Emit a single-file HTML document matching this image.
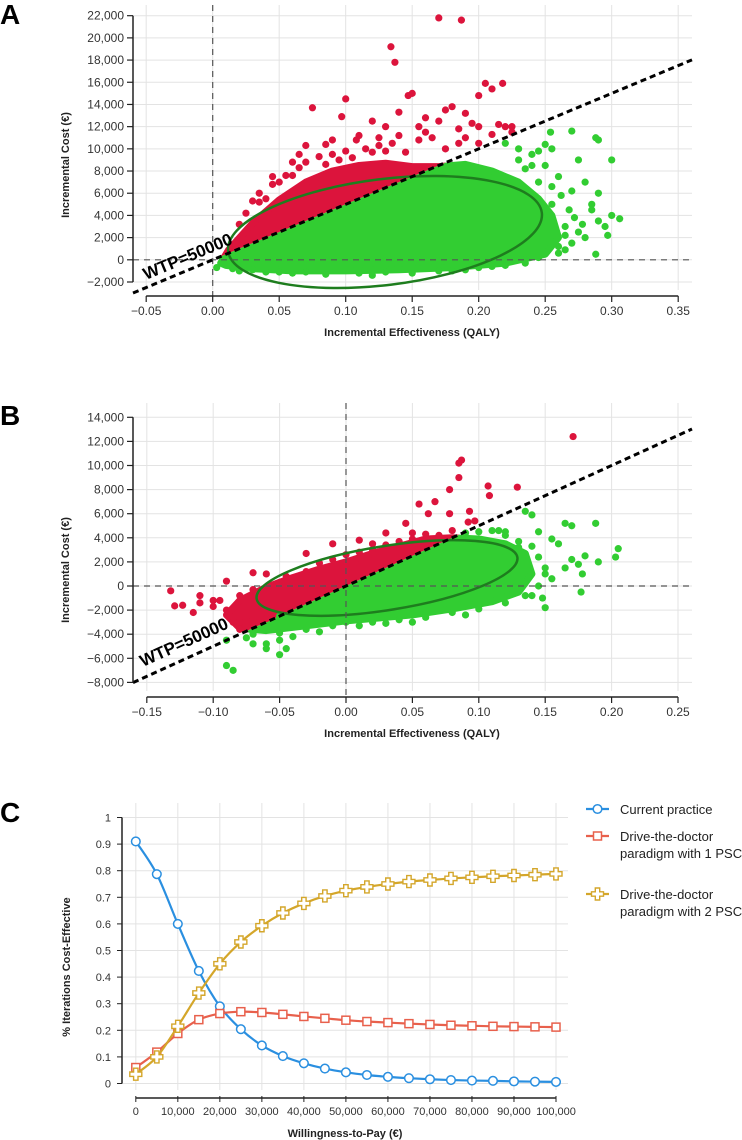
<!DOCTYPE html>
<html><head><meta charset="utf-8"><style>
html,body{margin:0;padding:0;background:#fff;width:742px;height:1140px;overflow:hidden}
svg{display:block;font-family:"Liberation Sans",sans-serif}
.tk{font-size:12px;fill:#333}
.tc{font-size:11px;fill:#333}
.ttl{font-size:11px;font-weight:bold;fill:#222}
.pl{font-size:28px;font-weight:bold;fill:#000}
.lg{font-size:13px;fill:#222}
</style></head><body>
<svg id="fig" width="742" height="1140" viewBox="0 0 742 1140">
<defs>
<clipPath id="clipAabove"><polygon id="cAa"/></clipPath>
<clipPath id="clipAbelow"><polygon id="cAb"/></clipPath>
<clipPath id="clipBabove"><polygon id="cBa"/></clipPath>
<clipPath id="clipBbelow"><polygon id="cBb"/></clipPath>
</defs>
<text class="pl" x="0" y="24">A</text>
<text class="pl" x="0" y="425">B</text>
<text class="pl" x="0" y="822">C</text>
<g id="gA"></g>
<g id="gB"></g>
<g id="gC"></g>
</svg>
<script>
// ---------- Panel A data ----------
const A_xTicks=[-0.05,0,0.05,0.10,0.15,0.20,0.25,0.30,0.35];
const A_yTicks=[-2000,0,2000,4000,6000,8000,10000,12000,14000,16000,18000,20000,22000];
const A_coreQ=[0.006,0.012,0.03,0.05,0.07,0.09,0.11,0.13,0.15,0.17,0.19,0.21,0.23,0.245,0.255,0.26,0.25,0.22,0.18,0.14,0.10,0.06,0.03,0.01];
const A_coreC=[-300,900,3300,5400,7000,8000,8500,8700,8400,8400,8600,8000,7000,5500,4000,2000,500,-300,-700,-900,-1000,-1000,-800,-500];
const A_outQ=[0.17,0.187,0.134,0.137,0.10,0.075,0.097,0.147,0.15,0.205,0.21,0.218,0.20,0.18,0.19,0.175,0.16,0.14,0.12,0.13,0.108,0.085,0.07,0.055,0.045,0.04,0.22,0.225,0.195,0.165,0.185,0.11,0.09,0.10,0.06,0.035,0.065,0.155,0.125,0.20,
 0.03,0.035,0.045,0.05,0.06,0.065,0.07,0.08,0.085,0.09,0.095,0.105,0.115,0.12,0.125,0.13,0.135,0.14,0.145,0.155,0.16,0.17,0.175,0.185,0.19,0.2,0.21,0.215,0.225,0.02,0.025,
 0.254,0.27,0.288,0.29,0.30,0.25,0.255,0.275,0.28,0.26,0.27,0.285,0.29,0.295,0.306,0.297,0.288,0.28,0.27,0.265,0.255,0.265,0.25,0.275,0.24,0.23,0.245,0.26,0.22,0.235,0.15,0.12,0.085,0.06,0.02,0.003,0.04,0.18,0.20,0.285,0.29,0.30,
 0.22,0.23,0.24,0.245,0.235,0.25,0.255,0.262,0.268,0.272,0.278,0.265,0.26,0.245,0.235,0.21,0.19,0.17,0.13,0.11,0.07,0.05,0.03,0.015];
const A_outC=[21800,21600,19200,17800,14500,13700,12900,14800,15000,15900,15400,15900,14800,13800,13200,13500,12800,13300,12500,12000,10800,10400,10300,7600,7500,5500,12000,11500,12300,11000,10500,11200,9500,9800,8800,5200,9500,12000,10300,12000,
 5300,6000,6800,7000,7600,8300,8800,9300,8600,10800,9000,9200,10000,9700,11000,9800,10500,11200,9700,10800,11500,12500,10000,11800,11000,10500,11300,12200,12000,3200,4200,
 11500,11600,11000,10800,9000,10400,10000,9000,7000,7500,6200,5000,3500,3000,3700,2200,500,2000,1500,3000,5000,900,3500,2500,8500,9000,7000,600,-500,0,-1200,-1400,-1300,-1200,-1000,-700,-1100,-1000,-700,4500,6000,4000,
 10500,10000,9500,9800,8200,8500,6600,5800,4500,3800,3200,2200,1200,200,-300,-600,-900,-1000,-1100,-1200,-1100,-1100,-900,-800];
// ---------- Panel B data ----------
const B_xTicks=[-0.15,-0.10,-0.05,0,0.05,0.10,0.15,0.20,0.25];
const B_yTicks=[-8000,-6000,-4000,-2000,0,2000,4000,6000,8000,10000,12000,14000];
const B_coreQ=[-0.09,-0.08,-0.06,-0.04,-0.02,0.0,0.02,0.04,0.06,0.08,0.10,0.12,0.135,0.14,0.13,0.11,0.08,0.05,0.02,0.0,-0.03,-0.06,-0.08];
const B_coreC=[-2400,-1200,-100,700,1400,2000,2700,3300,3900,4000,3900,3500,2700,1000,-500,-1300,-1900,-2400,-2700,-2900,-3300,-3700,-3500];
const B_outQ=[0.171,0.087,0.085,0.085,0.078,0.107,0.108,0.129,0.067,0.055,0.062,0.078,0.093,0.097,0.092,0.115,0.12,0.045,0.05,0.03,0.02,0.01,-0.01,-0.03,-0.07,-0.06,-0.09,-0.11,-0.132,-0.129,-0.123,-0.10,-0.095,-0.09,-0.085,-0.05,-0.07,-0.08,
 -0.1,-0.08,-0.07,-0.05,-0.045,-0.03,-0.02,-0.01,0.0,0.01,0.02,0.03,0.04,0.05,0.06,0.07,0.08,-0.11,-0.115,-0.085,-0.06,
 0.135,0.14,0.165,0.17,0.188,0.205,0.203,0.18,0.19,0.175,0.178,0.177,0.15,0.15,0.16,0.145,0.155,0.165,0.17,0.148,0.14,0.09,0.05,0.03,0.0,0.01,-0.02,-0.04,-0.045,-0.05,-0.06,-0.07,-0.085,-0.09,-0.09,-0.06,-0.05,-0.07,0.13,0.12,0.155,
 0.09,0.1,0.11,0.12,0.13,0.14,0.145,0.15,0.145,0.135,0.12,0.1,0.08,0.06,0.04,0.02,-0.01,-0.03,-0.05,-0.07,-0.08,-0.075];
const B_outC=[12400,10450,10200,9000,8000,8300,7500,8200,7000,6800,6000,6000,6200,5400,5300,4600,4500,5200,4400,4400,3500,3800,3500,2700,1100,1000,400,-800,-400,-1650,-1600,-1700,-1200,-2000,-3000,-2500,-2700,-3000,
 -1200,-800,-300,300,800,1200,1900,2200,2600,2800,3000,3400,3700,3900,4300,4200,4600,-1400,-2200,-2600,-2700,
 6200,5900,5200,5000,5200,3100,2400,2500,2000,1800,1000,-500,-1800,1500,3500,4500,3900,1500,2200,-1000,-800,-2400,-3000,-3100,-3000,-3300,-3800,-4200,-5200,-5700,-5200,-4000,-7000,-6600,-4500,-4800,-4500,-4800,3200,2800,600,
 4400,4500,4600,4200,3700,3300,2400,1000,0,-800,-1400,-1900,-2200,-2600,-2800,-3000,-3300,-3600,-3900,-3900,-3600,-4300];
const WTP=[50000];
// ---------- Panel C data ----------
const C_wtp=[0,5000,10000,15000,20000,25000,30000,35000,40000,45000,50000,55000,60000,65000,70000,75000,80000,85000,90000,95000,100000];
const C_current=[0.91,0.787,0.60,0.423,0.29,0.204,0.143,0.103,0.076,0.056,0.042,0.032,0.025,0.020,0.016,0.013,0.011,0.010,0.008,0.007,0.006];
const C_onePSC=[0.06,0.118,0.188,0.24,0.263,0.270,0.267,0.260,0.252,0.245,0.238,0.233,0.229,0.225,0.222,0.219,0.217,0.215,0.214,0.213,0.212];
const C_twoPSC=[0.035,0.10,0.215,0.34,0.45,0.532,0.593,0.641,0.677,0.705,0.725,0.739,0.75,0.759,0.765,0.771,0.775,0.779,0.782,0.785,0.788];
const C_xTicks=[0,10000,20000,30000,40000,50000,60000,70000,80000,90000,100000];
const C_yTicks=[0,0.1,0.2,0.3,0.4,0.5,0.6,0.7,0.8,0.9,1];

const NS='http://www.w3.org/2000/svg';
function mk(parent,tag,attrs,txt){const e=document.createElementNS(NS,tag);for(const k in attrs)e.setAttribute(k,attrs[k]);if(txt!==undefined)e.textContent=txt;parent.appendChild(e);return e;}
const fmt=v=>{const s=Math.abs(v).toLocaleString('en-US');return (v<0?'\u2212':'')+s;};
const fmtQ=v=>(v<0?'\u2212':'')+Math.abs(v).toFixed(2);
const RED='#dc143c',GREEN='#32cd32';

function scatter(g,cfg){
 const X=cfg.X,Y=cfg.Y,L=133,R=692;
 cfg.xTicks.forEach(t=>{const l=mk(g,'line',{x1:X(t),x2:X(t),y1:cfg.gTop,y2:cfg.axisY-6,stroke:'#e3e3e3','stroke-width':1});
  
  });
 cfg.yTicks.forEach(t=>{const l=mk(g,'line',{x1:L,x2:R,y1:Y(t),y2:Y(t),stroke:'#e3e3e3','stroke-width':1});
  
  });
 const wy=q=>Y(WTP[0]*q), qL=(L-X(0))/cfg.kx, qR=(R-X(0))/cfg.kx;
 document.getElementById(cfg.ca).setAttribute('points',`${L},${wy(qL)} ${R},${wy(qR)} ${R},0 ${L},0`);
 document.getElementById(cfg.cb).setAttribute('points',`${L},${wy(qL)} ${R},${wy(qR)} ${R},1140 ${L},1140`);
 const pts=cfg.coreQ.map((q,i)=>X(q)+','+Y(cfg.coreC[i])).join(' ');
 const cr=mk(g,'polygon',{points:pts,fill:RED,stroke:RED,'stroke-width':7,'stroke-linejoin':'round','clip-path':`url(#${cfg.clipA})`});
 
 
 const cg=mk(g,'polygon',{points:pts,fill:GREEN,stroke:GREEN,'stroke-width':7,'stroke-linejoin':'round','clip-path':`url(#${cfg.clipB})`});
 
 
 cfg.outQ.forEach((q,i)=>{const c=cfg.outC[i];const d=mk(g,'circle',{cx:X(q),cy:Y(c),r:3.6,fill:c>WTP[0]*q?RED:GREEN});
  
  });
 const el=mk(g,'ellipse',{cx:cfg.ell[0],cy:cfg.ell[1],rx:cfg.ell[2],ry:cfg.ell[3],transform:`rotate(${cfg.ell[4]} ${cfg.ell[0]} ${cfg.ell[1]})`,fill:'none',stroke:'#1e7d1e','stroke-width':2.5});
 
 
 const zv=mk(g,'line',{x1:X(0),x2:X(0),y1:cfg.gTop,y2:cfg.axisY,stroke:'#555','stroke-width':1.2,'stroke-dasharray':'6,5'});
 
 
 const zh=mk(g,'line',{x1:L,x2:R,y1:Y(0),y2:Y(0),stroke:'#555','stroke-width':1.2,'stroke-dasharray':'6,5'});
 
 
 const wl=mk(g,'line',{x1:L,y1:wy(qL),x2:R,y2:wy(qR),stroke:'#000','stroke-width':3,'stroke-dasharray':'6,4'});
 
 
 const ang=Math.atan2(wy(qR)-wy(qL),R-L)*180/Math.PI;
 const wt=mk(g,'text',{x:cfg.wtpLab[0],y:cfg.wtpLab[1],transform:`rotate(${ang} ${cfg.wtpLab[0]} ${cfg.wtpLab[1]})`,'font-size':'17px','font-weight':'bold',fill:'#000'},'WTP=50000');
 
 
 const ya=mk(g,'line',{x1:L,x2:L,y1:Y(cfg.yTicks[cfg.yTicks.length-1]),y2:Y(cfg.yTicks[0]),stroke:'#222','stroke-width':1.5});
 
 
 cfg.yTicks.forEach(t=>{const tk=mk(g,'line',{x1:L-6,x2:L,y1:Y(t),y2:Y(t),stroke:'#222','stroke-width':1.2});
  
  
  const tl=mk(g,'text',{x:L-9,y:Y(t)+4,'text-anchor':'end',class:'tk'},fmt(t));
  
  });
 const xa=mk(g,'line',{x1:X(cfg.xTicks[0]),x2:X(cfg.xTicks[cfg.xTicks.length-1]),y1:cfg.axisY,y2:cfg.axisY,stroke:'#222','stroke-width':1.5});
 
 
 cfg.xTicks.forEach(t=>{const tk=mk(g,'line',{x1:X(t),x2:X(t),y1:cfg.axisY,y2:cfg.axisY+6,stroke:'#222','stroke-width':1.2});
  
  
  const tl=mk(g,'text',{x:X(t),y:cfg.axisY+19,'text-anchor':'middle',class:'tk'},fmtQ(t));
  
  });
 const xt=mk(g,'text',{x:412,y:cfg.axisY+40,'text-anchor':'middle',class:'ttl'},'Incremental Effectiveness (QALY)');
 
 
 const yt=mk(g,'text',{x:0,y:0,transform:`translate(69 ${cfg.yTitleY}) rotate(-90)`,'text-anchor':'middle',class:'ttl'},'Incremental Cost (\u20ac)');
 
 
}

scatter(document.getElementById('gA'),{X:q=>212.7+q*1330,Y:c=>259.8-c*0.011096,kx:1330,xTicks:A_xTicks,yTicks:A_yTicks,
 coreQ:A_coreQ,coreC:A_coreC,outQ:A_outQ,outC:A_outC,gTop:5,axisY:296,ca:'cAa',cb:'cAb',clipA:'clipAabove',clipB:'clipAbelow',
 ell:[385,232,158,53,-7],wtpLab:[146,280],yTitleY:165});
scatter(document.getElementById('gB'),{X:q=>346+q*1328,Y:c=>586-c*0.01205,kx:1328,xTicks:B_xTicks,yTicks:B_yTicks,
 coreQ:B_coreQ,coreC:B_coreC,outQ:B_outQ,outC:B_outC,gTop:403,axisY:697,ca:'cBa',cb:'cBb',clipA:'clipBabove',clipB:'clipBbelow',
 ell:[387,578,132,32,-9],wtpLab:[143,667],yTitleY:570});

// ---------- Panel C ----------
(function(){
 const g=document.getElementById('gC');
 const X=w=>135.8+w*0.004202, Y=v=>1083.5-v*266;
 C_xTicks.forEach(t=>{const l=mk(g,'line',{x1:X(t),x2:X(t),y1:803,y2:1090,stroke:'#e3e3e3'});
  
  });
 C_yTicks.forEach(t=>{const l=mk(g,'line',{x1:122,x2:568,y1:Y(t),y2:Y(t),stroke:'#e3e3e3'});
  
  });
 const ya=mk(g,'line',{x1:122,x2:122,y1:Y(1),y2:Y(0),stroke:'#222','stroke-width':1.5});
 
 
 C_yTicks.forEach(t=>{const tk=mk(g,'line',{x1:117,x2:122,y1:Y(t),y2:Y(t),stroke:'#222'});
  
  
  const tl=mk(g,'text',{x:111,y:Y(t)+4,'text-anchor':'end',class:'tc'},String(t));
  
  });
 const xa=mk(g,'line',{x1:X(0),x2:X(100000),y1:1098,y2:1098,stroke:'#222','stroke-width':1.5});
 
 
 C_xTicks.forEach(t=>{const tk=mk(g,'line',{x1:X(t),x2:X(t),y1:1096,y2:1102,stroke:'#222'});
  
  
  const tl=mk(g,'text',{x:X(t),y:1115,'text-anchor':'middle',class:'tc'},t.toLocaleString('en-US'));
  
  });
 const xt=mk(g,'text',{x:345,y:1137,'text-anchor':'middle',class:'ttl'},'Willingness-to-Pay (\u20ac)');
 
 
 const yt=mk(g,'text',{x:0,y:0,transform:'translate(70 967) rotate(-90)','text-anchor':'middle',class:'ttl'},'% Iterations Cost-Effective');
 
 
 function spline(xs,ys){let d=`M${xs[0]},${ys[0]}`;for(let i=0;i<xs.length-1;i++){const p0=i?i-1:i,p3=i+2<xs.length?i+2:i+1;
  const c1x=xs[i]+(xs[i+1]-xs[p0])/6,c1y=ys[i]+(ys[i+1]-ys[p0])/6,c2x=xs[i+1]-(xs[p3]-xs[i])/6,c2y=ys[i+1]-(ys[p3]-ys[i])/6;
  d+=` C${c1x},${c1y} ${c2x},${c2y} ${xs[i+1]},${ys[i+1]}`;}return d;}
 function marker(shape,cx,cy,col){let e;
  if(shape==='circle')e=mk(g,'circle',{cx:cx,cy:cy,r:4.3,fill:'#fff',stroke:col,'stroke-width':1.5});
  else if(shape==='square')e=mk(g,'rect',{x:cx-4,y:cy-4,width:8,height:8,fill:'#fff',stroke:col,'stroke-width':1.5});
  else{const a=2.2,b=6;e=mk(g,'polygon',{points:`${cx-a},${cy-b} ${cx+a},${cy-b} ${cx+a},${cy-a} ${cx+b},${cy-a} ${cx+b},${cy+a} ${cx+a},${cy+a} ${cx+a},${cy+b} ${cx-a},${cy+b} ${cx-a},${cy+a} ${cx-b},${cy+a} ${cx-b},${cy-a} ${cx-a},${cy-a}`,fill:'#fff',stroke:col,'stroke-width':1.4});}
  return e;}
 const series=[[C_current,'#2a8fe0','circle','current-practice'],[C_onePSC,'#e8604c','square','one-psc'],[C_twoPSC,'#d4a62a','plus','two-pscs']];
 series.forEach(s=>{const xs=C_wtp.map(X),ys=s[0].map(Y);
  const p=mk(g,'path',{d:spline(xs,ys),fill:'none',stroke:s[1],'stroke-width':2.2});
  
  
  xs.forEach((x,i)=>{const m=marker(s[2],x,ys[i],s[1]);
   
   });});
 const leg=[['Current practice',''],['Drive-the-doctor','paradigm with 1 PSC'],['Drive-the-doctor','paradigm with 2 PSCs']];
 const ly=[809,836,894];
 leg.forEach((l,i)=>{const ln=mk(g,'line',{x1:586,x2:609,y1:ly[i],y2:ly[i],stroke:series[i][1],'stroke-width':2.2});
  
  
  const m=marker(series[i][2],597.5,ly[i],series[i][1]);
  
  
  const t=mk(g,'text',{x:620,y:ly[i]+5,class:'lg'},l[0]);
  
  
  if(l[1]){const t2=mk(g,'text',{x:620,y:ly[i]+22,class:'lg'},l[1]);
   
   }});
})();
</script>
</body></html>
